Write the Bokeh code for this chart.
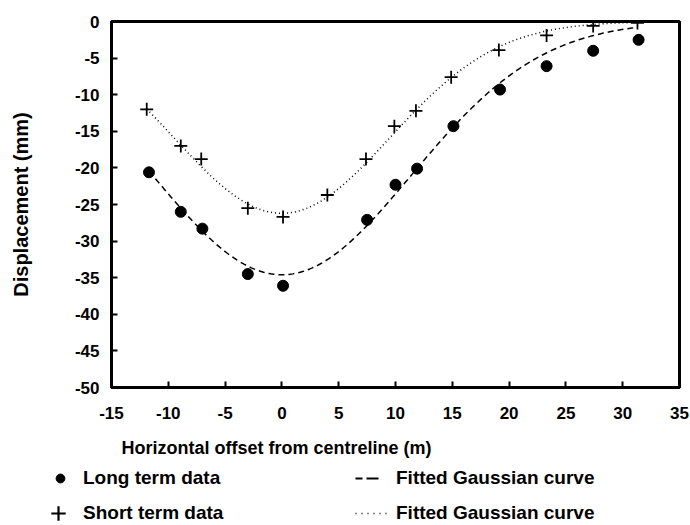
import numpy as np
from bokeh.plotting import figure
from bokeh.layouts import column
from bokeh.models import Range1d, Legend, LegendItem, FixedTicker, Label
from bokeh.embed import file_html
from bokeh.resources import INLINE

# Surface settlement trough: horizontal offset from centreline (m) vs displacement (mm)
long_x = [-11.7, -8.9, -7.0, -3.0, 0.1, 7.5, 10.0, 11.9, 15.1, 19.2, 23.3, 27.4, 31.4]
long_y = [-20.6, -26.0, -28.3, -34.5, -36.1, -27.1, -22.3, -20.1, -14.3, -9.3, -6.1, -4.0, -2.5]

short_x = [-11.9, -8.9, -7.1, -3.0, 0.1, 4.0, 7.4, 9.9, 11.8, 14.9, 19.1, 23.3, 27.4, 31.3]
short_y = [-12.0, -17.0, -18.8, -25.5, -26.7, -23.7, -18.8, -14.3, -12.2, -7.6, -3.9, -1.9, -0.6, -0.2]

# Gaussian trough parameters: S(x) = Smax * exp(-x^2 / (2 i^2))
long_smax, long_i = -34.6, 11.4
short_smax, short_i = -26.2, 9.5
long_span = (-11.7, 31.0)
short_span = (-11.9, 31.3)

x_ticks = [-15, -10, -5, 0, 5, 10, 15, 20, 25, 30, 35]
y_ticks = [-50, -45, -40, -35, -30, -25, -20, -15, -10, -5, 0]

FONT = "Liberation Sans"
W = 690
PLOT_H, KEY_H = 430, 95

# ---- main chart -------------------------------------------------------------
p = figure(width=W, height=PLOT_H, output_backend="svg", toolbar_location=None,
           x_range=Range1d(-15, 35), y_range=Range1d(-50, 0),
           min_border_left=111, min_border_right=11,
           min_border_top=21, min_border_bottom=43)
p.frame_align = False
p.grid.visible = False
p.background_fill_color = "white"
p.border_fill_color = "white"
p.outline_line_color = "black"
p.outline_line_width = 3

for ax in (p.xaxis[0], p.yaxis[0]):
    ax.axis_line_width = 3
    ax.axis_line_color = "black"
    ax.major_tick_in = 6
    ax.major_tick_out = 0
    ax.major_tick_line_width = 2
    ax.minor_tick_line_color = None
    ax.major_label_text_font = FONT
    ax.major_label_text_font_size = "17px"
    ax.major_label_text_font_style = "bold"
    ax.major_label_text_color = "black"
    ax.axis_label_text_font = FONT
    ax.axis_label_text_font_style = "bold"
    ax.axis_label_text_font_size = "20px"
    ax.axis_label_text_color = "black"

p.xaxis.ticker = FixedTicker(ticks=x_ticks)
p.yaxis.ticker = FixedTicker(ticks=y_ticks)
p.xaxis.major_label_overrides = {t: str(t) for t in x_ticks}
p.yaxis.major_label_overrides = {t: str(t) for t in y_ticks}
p.xaxis.major_label_standoff = 19
p.yaxis.major_label_standoff = 12
p.yaxis.axis_label = "Displacement (mm)"
p.yaxis.axis_label_standoff = 40

# fitted Gaussian curves
lx = np.linspace(long_span[0], long_span[1], 200)
ly = long_smax * np.exp(-lx**2 / (2 * long_i**2))
sx = np.linspace(short_span[0], short_span[1], 200)
sy = short_smax * np.exp(-sx**2 / (2 * short_i**2))

p.line(lx, ly, line_color="black", line_width=1.5, line_dash="6 4")
p.line(sx, sy, line_color="black", line_width=1.5, line_dash="1 3")

p.scatter(long_x, long_y, marker="circle", size=11,
          fill_color="black", line_color="black")
p.scatter(short_x, short_y, marker="cross", size=13,
          line_color="black", line_width=1.8)

# ---- strip beneath: x-axis title and key ------------------------------------
# ranges of this strip are page pixels (y grows downward)
q = figure(width=W, height=KEY_H, output_backend="svg", toolbar_location=None,
           x_range=Range1d(0, W), y_range=Range1d(PLOT_H + KEY_H, PLOT_H),
           min_border=0, x_axis_location=None, y_axis_location=None)
q.frame_align = False
q.grid.visible = False
q.outline_line_color = None
q.background_fill_color = "white"
q.border_fill_color = "white"

q.add_layout(Label(x=121, y=447, text="Horizontal offset from centreline (m)",
                   text_font=FONT, text_font_size="18px", text_font_style="bold",
                   text_baseline="middle", text_align="left", text_color="black"))

# key swatches: glyphs carrying the series styles, no drawable position
nan = [float("nan")]
k_dot = q.scatter(nan, nan, marker="circle", fill_color="black", line_color="black")
k_cross = q.scatter(nan, nan, marker="cross", line_color="black", line_width=2.2)
k_dash = q.line(nan, nan, line_color="black", line_width=1.8, line_dash="0 2 7 4 12 100")
k_dots = q.line(nan, nan, line_color="black", line_width=1.5,
                line_dash="0 5 1 5 1 5 1 5 1 5 1 5 1 50")


def key_row(items, vx, vy, gw, gh, standoff, lw):
    lg = Legend(items=[LegendItem(label=t, renderers=[r]) for t, r in items],
                location=(vx, vy), orientation="horizontal",
                glyph_width=gw, glyph_height=gh, label_height=gh, label_width=lw,
                label_standoff=standoff, padding=0, margin=0, spacing=0,
                border_line_color=None, background_fill_alpha=0,
                label_text_font=FONT, label_text_font_size="19px",
                label_text_font_style="bold", label_text_color="black")
    q.add_layout(lg, "center")


key_row([("Long term data", k_dot), ("Fitted Gaussian curve", k_dash)],
        40, 36, 40, 22, 3, 270)
key_row([("Short term data", k_cross), ("Fitted Gaussian curve", k_dots)],
        37, -6, 42, 36, 4, 267)

open("out.html", "w").write(file_html(column(p, q, spacing=0), INLINE))
